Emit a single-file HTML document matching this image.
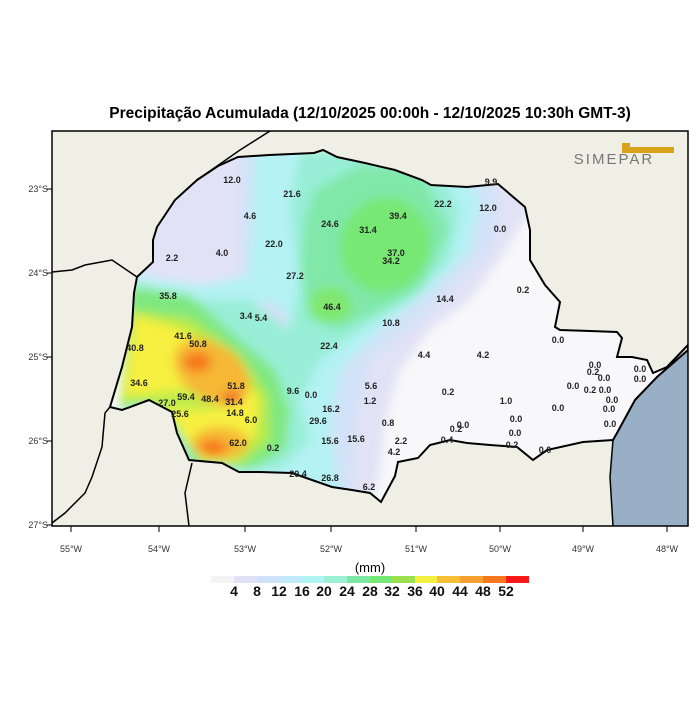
<!DOCTYPE html>
<html><head><meta charset="utf-8"><style>
body{margin:0;background:#fff;width:700px;height:700px;overflow:hidden;font-family:"Liberation Sans",sans-serif}
</style></head><body>
<svg width="700" height="700" viewBox="0 0 700 700" xmlns="http://www.w3.org/2000/svg" font-family="Liberation Sans, sans-serif">
<defs>
<clipPath id="pr"><path id="prp" d="M197,180 L218,166 L238,157 L269,155 L314,153 L323,150 L337,157 L365,163 L395,170 L422,180 L431,185 L467,187 L498,184 L525,207 L530,230 L530,260 L545,285 L560,302 L555,327 L560,330 L590,331 L617,332 L622,338 L617,357 L632,357 L647,360 L653,373 L667,367 L688,345 L688,350 L657,377 L635,400 L617,433 L613,440 L583,442 L547,450 L533,460 L517,447 L490,445 L467,443 L450,440 L430,445 L418,458 L398,462 L395,476 L381,502 L370,493 L352,490 L332,487 L292,473 L260,472 L239,472 L222,463 L189,460 L177,433 L172,412 L149,400 L122,410 L110,407 L122,367 L132,327 L134,293 L137,277 L153,262 L153,240 L157,227 L175,200 Z"/></clipPath>
<clipPath id="fr"><rect x="52" y="131" width="636" height="395"/></clipPath>
<filter id="bl" x="-20%" y="-20%" width="140%" height="140%"><feGaussianBlur stdDeviation="5"/></filter>
</defs>
<text x="370" y="118" text-anchor="middle" font-size="15.5" font-weight="bold">Precipitação Acumulada (12/10/2025 00:00h - 12/10/2025 10:30h GMT-3)</text>
<g clip-path="url(#fr)">
<rect x="52" y="131" width="636" height="395" fill="#efefe6"/>
<path d="M688,345 L657,377 L635,400 L617,433 L613,440 L610,477 L613,526 L688,526 Z" fill="#98afc6"/>
<g clip-path="url(#pr)">
<rect x="52" y="131" width="636" height="395" fill="#f8f8fa"/>
<g filter="url(#bl)">
<path d="M130,150 L520,150 L530,210 L500,260 L470,300 L430,330 L400,370 L385,420 L380,470 L370,510 L120,510 Z" fill="#e2e2f6"/>
<path d="M240,150 L470,150 L500,200 L490,250 L450,290 L410,330 L370,360 L355,420 L350,510 L120,510 L130,280 L200,290 L240,280 Z" fill="#d2e2f8"/>
<path d="M255,150 L450,150 L480,200 L470,250 L430,290 L380,330 L340,370 L330,430 L340,500 L120,510 L130,275 L200,285 L250,275 Z" fill="#b4f2f4"/>
<ellipse cx="262" cy="325" rx="26" ry="22" fill="#d8dcf6"/>
<path d="M300,150 L430,150 L460,210 L450,260 L410,300 L360,330 L320,360 L300,400 L310,440 L280,470 L180,470 L130,400 L130,290 L200,300 L250,300 L290,330 L300,280 L290,210 Z" fill="#98eed6"/>
<path d="M315,190 L360,165 L420,170 L450,230 L420,290 L360,320 L340,330 L310,320 L300,270 L305,220 Z" fill="#80e8a8"/>
<ellipse cx="385" cy="245" rx="45" ry="48" fill="#78e874" transform="rotate(20 385 245)"/>
<ellipse cx="330" cy="305" rx="22" ry="18" fill="#80e870"/>
<path d="M130,285 L190,295 L240,340 L275,370 L290,410 L285,450 L250,470 L195,465 L175,430 L150,402 L120,410 Z" fill="#80e880"/>
<path d="M130,310 L190,318 L240,355 L268,395 L270,440 L240,465 L200,462 L180,430 L150,402 L120,405 Z" fill="#b8ea48"/>
<path d="M135,315 L185,330 L235,365 L260,400 L255,435 L235,460 L205,462 L185,440 L175,420 L150,395 L125,395 Z" fill="#f6f040"/>
<ellipse cx="190" cy="400" rx="50" ry="10" fill="#a8ea50" opacity="0.7"/>
<ellipse cx="212" cy="372" rx="42" ry="28" fill="#f6b836" transform="rotate(35 212 372)"/>
<ellipse cx="220" cy="443" rx="28" ry="16" fill="#f6b836"/>
<ellipse cx="197" cy="362" rx="14" ry="10" fill="#f6781e"/>
<ellipse cx="213" cy="448" rx="14" ry="8" fill="#f6781e"/>
<ellipse cx="232" cy="398" rx="10" ry="5" fill="#f03820"/>
</g>
</g>
<use href="#prp" fill="none" stroke="#000" stroke-width="2"/>
<g fill="none" stroke="#000" stroke-width="1.5">
<path d="M270,131 L240,150 L200,178"/>
<path d="M52,272 L72,270 L85,265 L112,260 L137,277"/>
<path d="M110,407 L105,413 L102,447 L92,477 L85,493 L65,513 L52,523"/>
<path d="M192,463 L185,493 L189,526"/>
<path d="M613,440 L610,477 L613,526"/>
</g>
</g>
<rect x="52" y="131" width="636" height="395" fill="none" stroke="#000" stroke-width="1.5"/>
<g font-size="9" fill="#333">
<text x="48" y="192" text-anchor="end">23°S</text><text x="48" y="276" text-anchor="end">24°S</text>
<text x="48" y="360" text-anchor="end">25°S</text><text x="48" y="444" text-anchor="end">26°S</text><text x="48" y="528" text-anchor="end">27°S</text>
<text x="71" y="552" text-anchor="middle">55°W</text><text x="159" y="552" text-anchor="middle">54°W</text><text x="245" y="552" text-anchor="middle">53°W</text>
<text x="331" y="552" text-anchor="middle">52°W</text><text x="416" y="552" text-anchor="middle">51°W</text><text x="500" y="552" text-anchor="middle">50°W</text>
<text x="583" y="552" text-anchor="middle">49°W</text><text x="667" y="552" text-anchor="middle">48°W</text>
</g>
<g stroke="#000" stroke-width="1">
<path d="M52,189 h-6 M52,273 h-6 M52,357 h-6 M52,441 h-6 M52,525 h-6"/>
<path d="M71,526 v6 M159,526 v6 M245,526 v6 M331,526 v6 M416,526 v6 M500,526 v6 M583,526 v6 M667,526 v6"/>
</g>
<g font-size="9" font-weight="bold" fill="#222" text-anchor="middle">
<text x="232" y="183">12.0</text><text x="292" y="197">21.6</text><text x="250" y="219">4.6</text><text x="330" y="227">24.6</text>
<text x="398" y="219">39.4</text><text x="368" y="233">31.4</text><text x="443" y="207">22.2</text><text x="488" y="211">12.0</text>
<text x="500" y="232">0.0</text><text x="274" y="247">22.0</text><text x="222" y="256">4.0</text><text x="172" y="261">2.2</text>
<text x="396" y="256">37.0</text><text x="391" y="264">34.2</text><text x="295" y="279">27.2</text><text x="168" y="299">35.8</text>
<text x="445" y="302">14.4</text><text x="523" y="293">0.2</text><text x="332" y="310">46.4</text><text x="246" y="319">3.4</text>
<text x="261" y="321">5.4</text><text x="391" y="326">10.8</text><text x="183" y="339">41.6</text><text x="198" y="347">50.8</text>
<text x="135" y="351">40.8</text><text x="329" y="349">22.4</text><text x="558" y="343">0.0</text><text x="424" y="358">4.4</text>
<text x="483" y="358">4.2</text><text x="139" y="386">34.6</text><text x="236" y="389">51.8</text><text x="371" y="389">5.6</text>
<text x="293" y="394">9.6</text><text x="311" y="398">0.0</text><text x="448" y="395">0.2</text><text x="506" y="404">1.0</text>
<text x="186" y="400">59.4</text><text x="210" y="402">48.4</text><text x="234" y="405">31.4</text><text x="370" y="404">1.2</text>
<text x="167" y="406">27.0</text><text x="331" y="412">16.2</text><text x="180" y="417">25.6</text><text x="235" y="416">14.8</text>
<text x="251" y="423">6.0</text><text x="318" y="424">29.6</text><text x="388" y="426">0.8</text><text x="558" y="411">0.0</text>
<text x="516" y="422">0.0</text><text x="515" y="436">0.0</text><text x="238" y="446">62.0</text><text x="273" y="451">0.2</text>
<text x="330" y="444">15.6</text><text x="356" y="442">15.6</text><text x="401" y="444">2.2</text><text x="394" y="455">4.2</text>
<text x="298" y="477">20.4</text><text x="330" y="481">26.8</text><text x="369" y="490">6.2</text><text x="491" y="185">9.9</text>
<text x="640" y="372">0.0</text><text x="640" y="382">0.0</text><text x="604" y="381">0.0</text><text x="590" y="393">0.2</text>
<text x="605" y="393">0.0</text><text x="612" y="403">0.0</text><text x="610" y="427">0.0</text><text x="545" y="453">0.0</text>
<text x="456" y="432">0.2</text><text x="463" y="428">0.0</text><text x="447" y="443">0.4</text><text x="512" y="448">0.2</text>
<text x="595" y="368">0.0</text><text x="593" y="375">0.2</text><text x="573" y="389">0.0</text><text x="609" y="412">0.0</text>
</g>
<text x="614" y="164" font-size="15" fill="#777" letter-spacing="2" text-anchor="middle">SIMEPAR</text>
<path d="M622,143 v10 h52 v-6 h-44 v-4 z" fill="#d9a21a"/>
<text x="370" y="572" font-size="13" text-anchor="middle">(mm)</text>
<g>
<rect x="211" y="576" width="23" height="7" fill="#f4f4f6"/><rect x="234" y="576" width="23" height="7" fill="#e2e2f6"/>
<rect x="257" y="576" width="22" height="7" fill="#d2e2f8"/><rect x="279" y="576" width="23" height="7" fill="#c0eaf8"/>
<rect x="302" y="576" width="22" height="7" fill="#b0f4f4"/><rect x="324" y="576" width="23" height="7" fill="#9cf0d6"/>
<rect x="347" y="576" width="23" height="7" fill="#7ce8a4"/><rect x="370" y="576" width="22" height="7" fill="#74e874"/>
<rect x="392" y="576" width="23" height="7" fill="#9ae050"/><rect x="415" y="576" width="22" height="7" fill="#f4f040"/>
<rect x="437" y="576" width="23" height="7" fill="#f6c036"/><rect x="460" y="576" width="23" height="7" fill="#f6a030"/>
<rect x="483" y="576" width="23" height="7" fill="#f6781e"/><rect x="506" y="576" width="23" height="7" fill="#f81818"/>
</g>
<g font-size="14" font-weight="bold" text-anchor="middle" fill="#111">
<text x="234" y="596">4</text><text x="257" y="596">8</text><text x="279" y="596">12</text><text x="302" y="596">16</text>
<text x="324" y="596">20</text><text x="347" y="596">24</text><text x="370" y="596">28</text><text x="392" y="596">32</text>
<text x="415" y="596">36</text><text x="437" y="596">40</text><text x="460" y="596">44</text><text x="483" y="596">48</text><text x="506" y="596">52</text>
</g>
</svg>
</body></html>
